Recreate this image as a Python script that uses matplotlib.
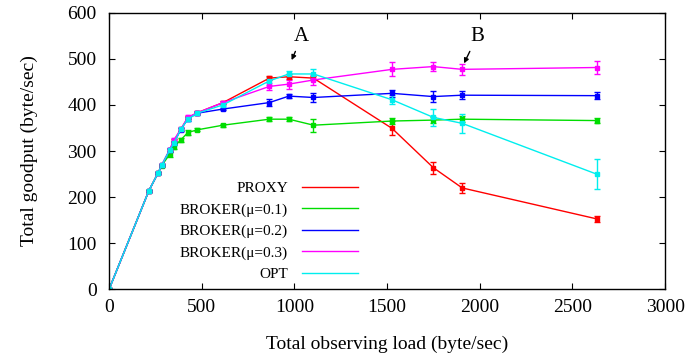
import matplotlib
matplotlib.use("Agg")
import matplotlib.pyplot as plt
from matplotlib.lines import Line2D

# observing load (byte/sec), shared by all series
load = [0, 215, 264, 284, 327, 350, 387, 425, 477, 615, 865, 970, 1103, 1527, 1749, 1905, 2630]

# goodput (byte/sec) and error bar half-widths
proxy = [0, 214, 252, 269, 302, 322, 347, 372, 383, 405, 458, 461, 458, 349, 264, 220, 153]
proxy_err = [0, 2, 2, 2, 3, 3, 3, 3, 3, 3, 4, 5, 5, 15, 13, 10, 6]

broker1 = [0, 214, 252, 268, 293, 309, 324, 340, 346, 356, 369, 369, 356, 365, 367, 369, 366]
broker1_err = [0, 2, 2, 2, 5, 4, 4, 5, 3, 3, 5, 4, 14, 6, 6, 7, 6]

broker2 = [0, 214, 252, 269, 302, 318, 346, 370, 382, 391, 405, 419, 416, 425, 418, 421, 420]
broker2_err = [0, 2, 2, 2, 4, 3, 3, 4, 3, 3, 8, 5, 10, 8, 12, 8, 8]

broker3 = [0, 214, 252, 269, 303, 324, 347, 373, 383, 405, 440, 445, 454, 477, 483, 477, 481]
broker3_err = [0, 2, 2, 2, 3, 4, 4, 4, 3, 4, 7, 10, 10, 15, 10, 12, 14]

opt = [0, 214, 252, 269, 302, 317, 347, 369, 382, 400, 452, 467, 467, 411, 373, 360, 250]
opt_err = [0, 2, 2, 2, 3, 3, 3, 3, 3, 3, 8, 6, 10, 10, 18, 21, 32]

labels = ["PROXY", "BROKER(\u03bc=0.1)", "BROKER(\u03bc=0.2)", "BROKER(\u03bc=0.3)", "OPT"]
colors = ["#ff0000", "#00dd00", "#0000ff", "#ff00ff", "#00eeee"]
series = [(proxy, proxy_err), (broker1, broker1_err), (broker2, broker2_err),
          (broker3, broker3_err), (opt, opt_err)]

plt.rcParams["font.family"] = ["Liberation Serif", "DejaVu Serif"]

fig = plt.figure(figsize=(6.9, 3.6), dpi=100)
ax = fig.add_axes([0.158, 0.196, 0.806, 0.769])

for (vals, errs), c in zip(series, colors):
    ax.errorbar(load, vals, yerr=errs, color=c, lw=1, marker="s", ms=3,
                mec=c, mfc=c, ecolor=c, elinewidth=1, capsize=2.5, capthick=1)

ax.set_xlim(0, 3000)
ax.set_ylim(0, 600)
ax.set_xticks(range(0, 3001, 500))
ax.set_yticks(range(0, 601, 100))
ax.tick_params(direction="in", top=True, right=True, length=4, labelsize=14)
ax.tick_params(axis="y", pad=9)
ax.tick_params(axis="x", pad=7)
for s in ax.spines.values():
    s.set_linewidth(1)

ax.set_xlabel("Total observing load (byte/sec)", fontsize=14, labelpad=14)
ax.set_ylabel("Total goodput (byte/sec)", fontsize=14, labelpad=21)

arrow = dict(arrowstyle="-|>", color="black", lw=1, shrinkA=2, shrinkB=0, mutation_scale=7)
ax.annotate("A", xy=(985, 497), xytext=(1040, 548), ha="center", va="center",
            fontsize=15, arrowprops=arrow)
ax.annotate("B", xy=(1915, 490), xytext=(1985, 548), ha="center", va="center",
            fontsize=15, arrowprops=arrow)

handles = [Line2D([], [], color=c, lw=1) for c in colors]
ax.legend(handles, labels, loc="lower right", bbox_to_anchor=(0.448, 0.03),
          frameon=False, markerfirst=False, fontsize=11, handlelength=3.7,
          handletextpad=0.9, labelspacing=0.5, borderaxespad=0, borderpad=0)

fig.savefig("out.png", dpi=100)
